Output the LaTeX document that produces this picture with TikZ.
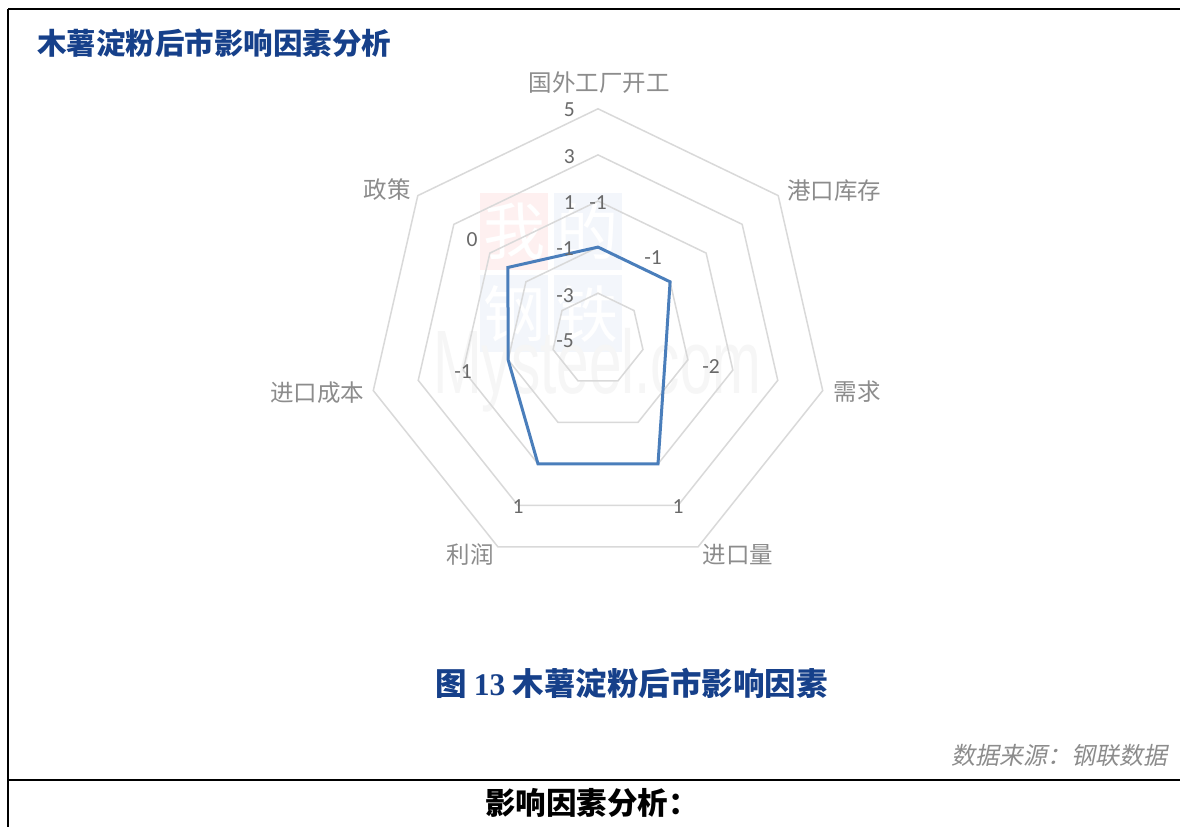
\documentclass[tikz,border=0pt]{standalone}
\usepackage{fontspec}
\setmainfont{Carlito}
\newfontfamily\cjk{Noto Sans CJK SC}
\newfontfamily\cjksl[FakeSlant=0.2]{Noto Sans CJK SC}
\newfontfamily\tnr{Liberation Serif}
\newfontfamily\arialf{Liberation Sans}
\usetikzlibrary{calc}
\definecolor{titleblue}{RGB}{22,64,138}
\definecolor{gridgray}{RGB}{217,217,217}
\definecolor{serieblue}{RGB}{74,126,187}
\definecolor{catgray}{RGB}{140,140,140}
\definecolor{numgray}{RGB}{105,105,105}
\definecolor{srcgray}{RGB}{140,140,140}
\definecolor{wmred}{RGB}{254,240,240}
\definecolor{wmblue}{RGB}{243,246,251}
\definecolor{wmgray}{RGB}{246,246,246}
\begin{document}
\begin{tikzpicture}[x=1pt,y=-1pt,
  frameline/.style={line width=2.5pt,black},
  gridring/.style={draw=gridgray,line width=1.5pt,line join=miter},
  dataline/.style={draw=serieblue,line width=3pt,line join=miter},
  catlabel/.style={font=\cjk\fontsize{23.5}{25}\selectfont,text=catgray,inner sep=0pt},
  numlabel/.style={font=\fontsize{21.5}{23}\selectfont,text=numgray,inner sep=0pt},
  ticklabel/.style={numlabel,anchor=east},
  wmbox/.style={inner sep=0pt,minimum width=68pt,minimum height=77pt,text=white,font=\cjk\fontsize{62}{64}\selectfont},
]
\useasboundingbox (0,0) rectangle (1180,827);
\fill[white] (0,0) rectangle (1180,827);

% frame
\draw[frameline] (8,9) -- (1180,9);
\draw[frameline] (8,9) -- (8,827);
\draw[frameline] (8,780) -- (1180,780);

% watermark
\node[wmbox,fill=wmred]  (wm1) at (514,231.5) {我};
\node[wmbox,fill=wmblue] (wm2) at (587.5,231.5) {的};
\node[wmbox,fill=wmblue] (wm3) at (514,313.5) {钢};
\node[wmbox,fill=wmblue] (wm4) at (587.5,313.5) {铁};
\node[anchor=base west,inner sep=0pt,text=wmgray,font=\arialf\fontsize{90}{90}\selectfont,xscale=0.65] (wm5) at (433,393) {Mysteel.com};

% radar grid
\coordinate (c) at (598,339.3);
\foreach \r in {46.1,92.2,138.3,184.4,230.5}{
  \draw[gridring] ($(c)+(-90:\r)$) \foreach \i in {1,...,6}{ -- ($(c)+({-90+\i*360/7}:\r)$) } -- cycle;
}

% data series
\coordinate (p1) at ($(c)+(-90:92.2)$);
\coordinate (p2) at ($(c)+({-90+1*360/7}:92.2)$);
\coordinate (p3) at ($(c)+({-90+2*360/7}:69.15)$);
\coordinate (p4) at ($(c)+({-90+3*360/7}:138.3)$);
\coordinate (p5) at ($(c)+({-90+4*360/7}:138.3)$);
\coordinate (p6) at ($(c)+({-90+5*360/7}:92.2)$);
\coordinate (p7) at ($(c)+({-90+6*360/7}:115.25)$);
\draw[dataline] (p1) -- (p2) -- (p3) -- (p4) -- (p5) -- (p6) -- (p7) -- cycle;

% axis tick labels
\node[ticklabel] (t5) at (575,110) {5};
\node[ticklabel] (t3) at (575,157) {3};
\node[ticklabel] (t1) at (575,203) {1};
\node[ticklabel] (tm1) at (574,249) {-1};
\node[ticklabel] (tm3) at (574,296) {-3};
\node[ticklabel] (tm5) at (574,341) {-5};

% data labels
\node[numlabel] (d1) at (598,203) {-1};
\node[numlabel] (d2) at (653,258) {-1};
\node[numlabel] (d3) at (711,367) {-2};
\node[numlabel] (d4) at (678,507) {1};
\node[numlabel] (d5) at (518,507) {1};
\node[numlabel] (d6) at (463,372) {-1};
\node[numlabel] (d7) at (472,240) {0};

% category labels
\node[catlabel] (c1) at (599,83) {国外工厂开工};
\node[catlabel] (c2) at (834,191) {港口库存};
\node[catlabel] (c3) at (857,392) {需求};
\node[catlabel] (c4) at (738,555) {进口量};
\node[catlabel] (c5) at (470,555) {利润};
\node[catlabel] (c6) at (317,393) {进口成本};
\node[catlabel] (c7) at (387,190) {政策};

% titles
\node[anchor=west,inner sep=0pt,text=titleblue,font=\cjk\bfseries\fontsize{29.5}{31}\selectfont] (title) at (37,43) {木薯淀粉后市影响因素分析};
\node[anchor=west,inner sep=0pt,text=titleblue,font=\cjk\bfseries\fontsize{31.5}{33}\selectfont] (caption) at (435,683) {图 {\tnr\bfseries 13} 木薯淀粉后市影响因素};
\node[anchor=east,inner sep=0pt,text=srcgray,font=\cjksl\fontsize{24}{26}\selectfont] (source) at (1168,755) {数据来源：钢联数据};
\node[anchor=west,inner sep=0pt,text=black,font=\cjk\bfseries\fontsize{30.5}{32}\selectfont] (analysis) at (485,803) {影响因素分析：};
\end{tikzpicture}
\end{document}
